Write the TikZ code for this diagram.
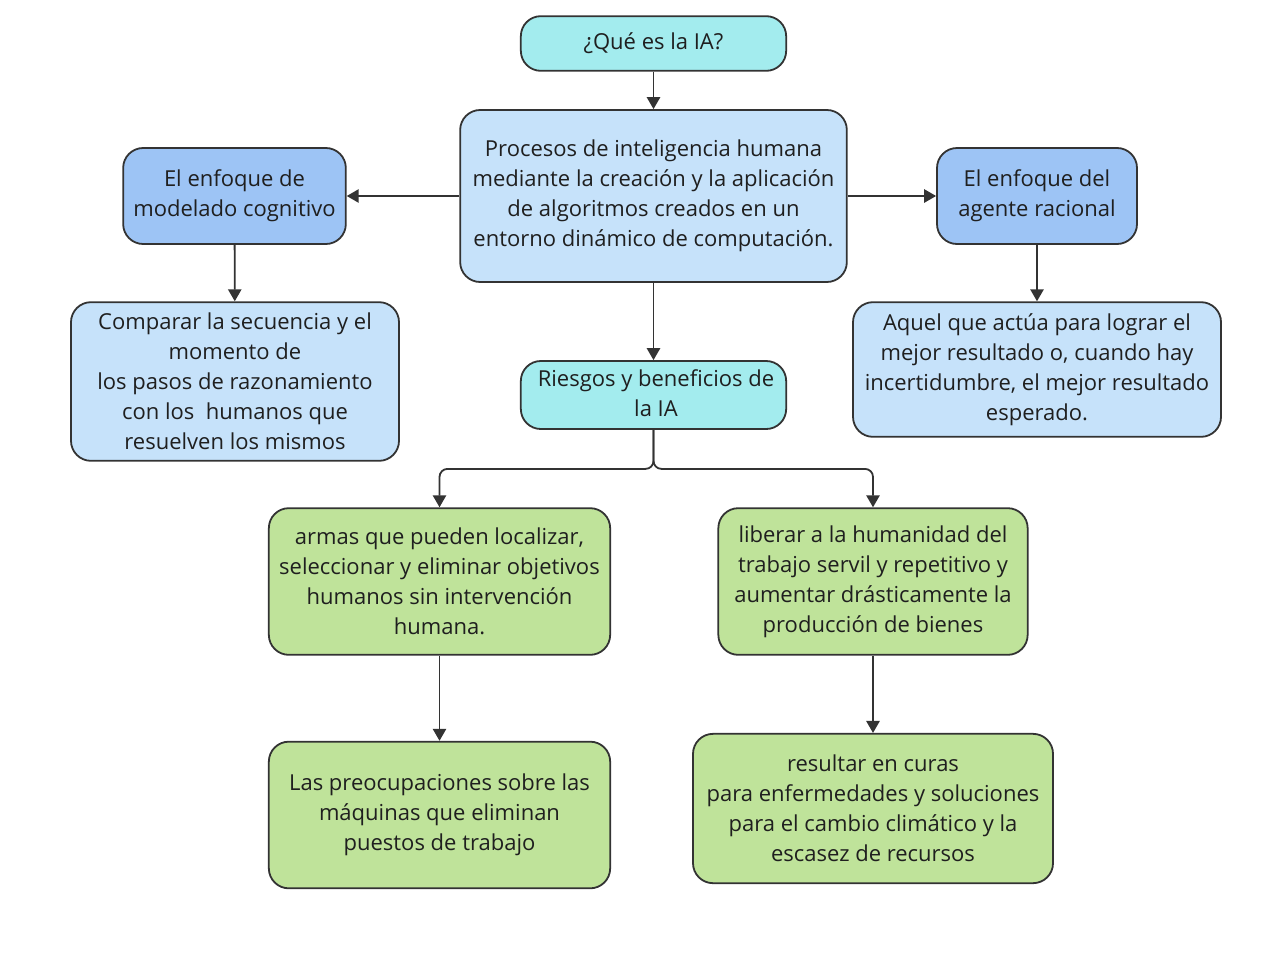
\documentclass[tikz,border=0pt]{standalone}
\usepackage{fontspec}
\setmainfont{Open Sans}
\usepackage{xcolor}
\usetikzlibrary{arrows.meta}
\definecolor{cyanbox}{HTML}{A3ECEE}
\definecolor{lightblue}{HTML}{C6E2FA}
\definecolor{midblue}{HTML}{9DC4F5}
\definecolor{greenbox}{HTML}{BFE39A}
\definecolor{linegray}{HTML}{333333}
\begin{document}
\begin{tikzpicture}[x=0.75pt,y=0.75pt,yscale=-1,xscale=1,
  box/.style={draw=linegray,line width=1.35pt,rounded corners=15pt,align=center,
    inner sep=0pt,font=\fontsize{16.5}{22.5}\selectfont,text=black!88},
  link/.style={draw=linegray,line width=1.35pt,-{Triangle[length=9pt,width=10pt]}}]
\useasboundingbox (0,0) rectangle (1280,953);
% Boxes
\node [box,fill=cyanbox,minimum width=199pt,minimum height=41pt] (que) at (653.5,43.5) {¿Qué es la IA?};
\node [box,fill=lightblue,minimum width=290pt,minimum height=129pt] (proc) at (653.5,196) {Procesos de inteligencia humana\\mediante la creación y la aplicación\\de algoritmos creados en un\\entorno dinámico de computación.};
\node [box,fill=midblue,minimum width=167pt,minimum height=72pt] (cogn) at (234.5,196) {El enfoque de\\modelado cognitivo};
\node [box,fill=midblue,minimum width=150pt,minimum height=72pt] (agen) at (1037,196) {El enfoque del\\agente racional};
\node [box,fill=lightblue,minimum width=246pt,minimum height=119pt] (comp) at (235,381.5) {Comparar la secuencia y el\\momento de\\los pasos de razonamiento\\con los\ \ humanos que\\resuelven los mismos};
\node [box,fill=lightblue,minimum width=276pt,minimum height=101pt] (aquel) at (1037,369.5) {Aquel que actúa para lograr el\\mejor resultado o, cuando hay\\incertidumbre, el mejor resultado\\esperado.};
\node [box,fill=cyanbox,minimum width=199pt,minimum height=51pt] (ries) at (653.5,395) {};
\node [align=center,font=\fontsize{16.5}{22.5}\selectfont,text=black!88] at (656,393) {Riesgos y beneficios de\\la IA};
\node [box,fill=greenbox,minimum width=256pt,minimum height=110pt] (armas) at (439.5,581.5) {armas que pueden localizar,\\seleccionar y eliminar objetivos\\humanos sin intervención\\humana.};
\node [box,fill=greenbox,minimum width=232pt,minimum height=110pt] (libe) at (873,581.5) {liberar a la humanidad del\\trabajo servil y repetitivo y\\aumentar drásticamente la\\producción de bienes};
\node [box,fill=greenbox,minimum width=256pt,minimum height=110pt] (preo) at (439.5,815) {Las preocupaciones sobre las\\máquinas que eliminan\\puestos de trabajo};
\node [box,fill=greenbox,minimum width=270pt,minimum height=112pt] (resu) at (873,808.5) {resultar en curas\\para enfermedades y soluciones\\para el cambio climático y la\\escasez de recursos};
% Connectors
\draw [link] (que) -- (proc);
\draw [link] (proc) -- (cogn);
\draw [link] (proc) -- (agen);
\draw [link] (proc) -- (ries);
\draw [link] (cogn) -- (comp);
\draw [link] (agen) -- (aquel);
\draw [link,rounded corners=6pt] (ries.south) -- ++(0,39) -| (armas.north);
\draw [link,rounded corners=6pt] (ries.south) -- ++(0,39) -| (libe.north);
\draw [link] (armas) -- (preo);
\draw [link] (libe) -- (resu);
\end{tikzpicture}
\end{document}
